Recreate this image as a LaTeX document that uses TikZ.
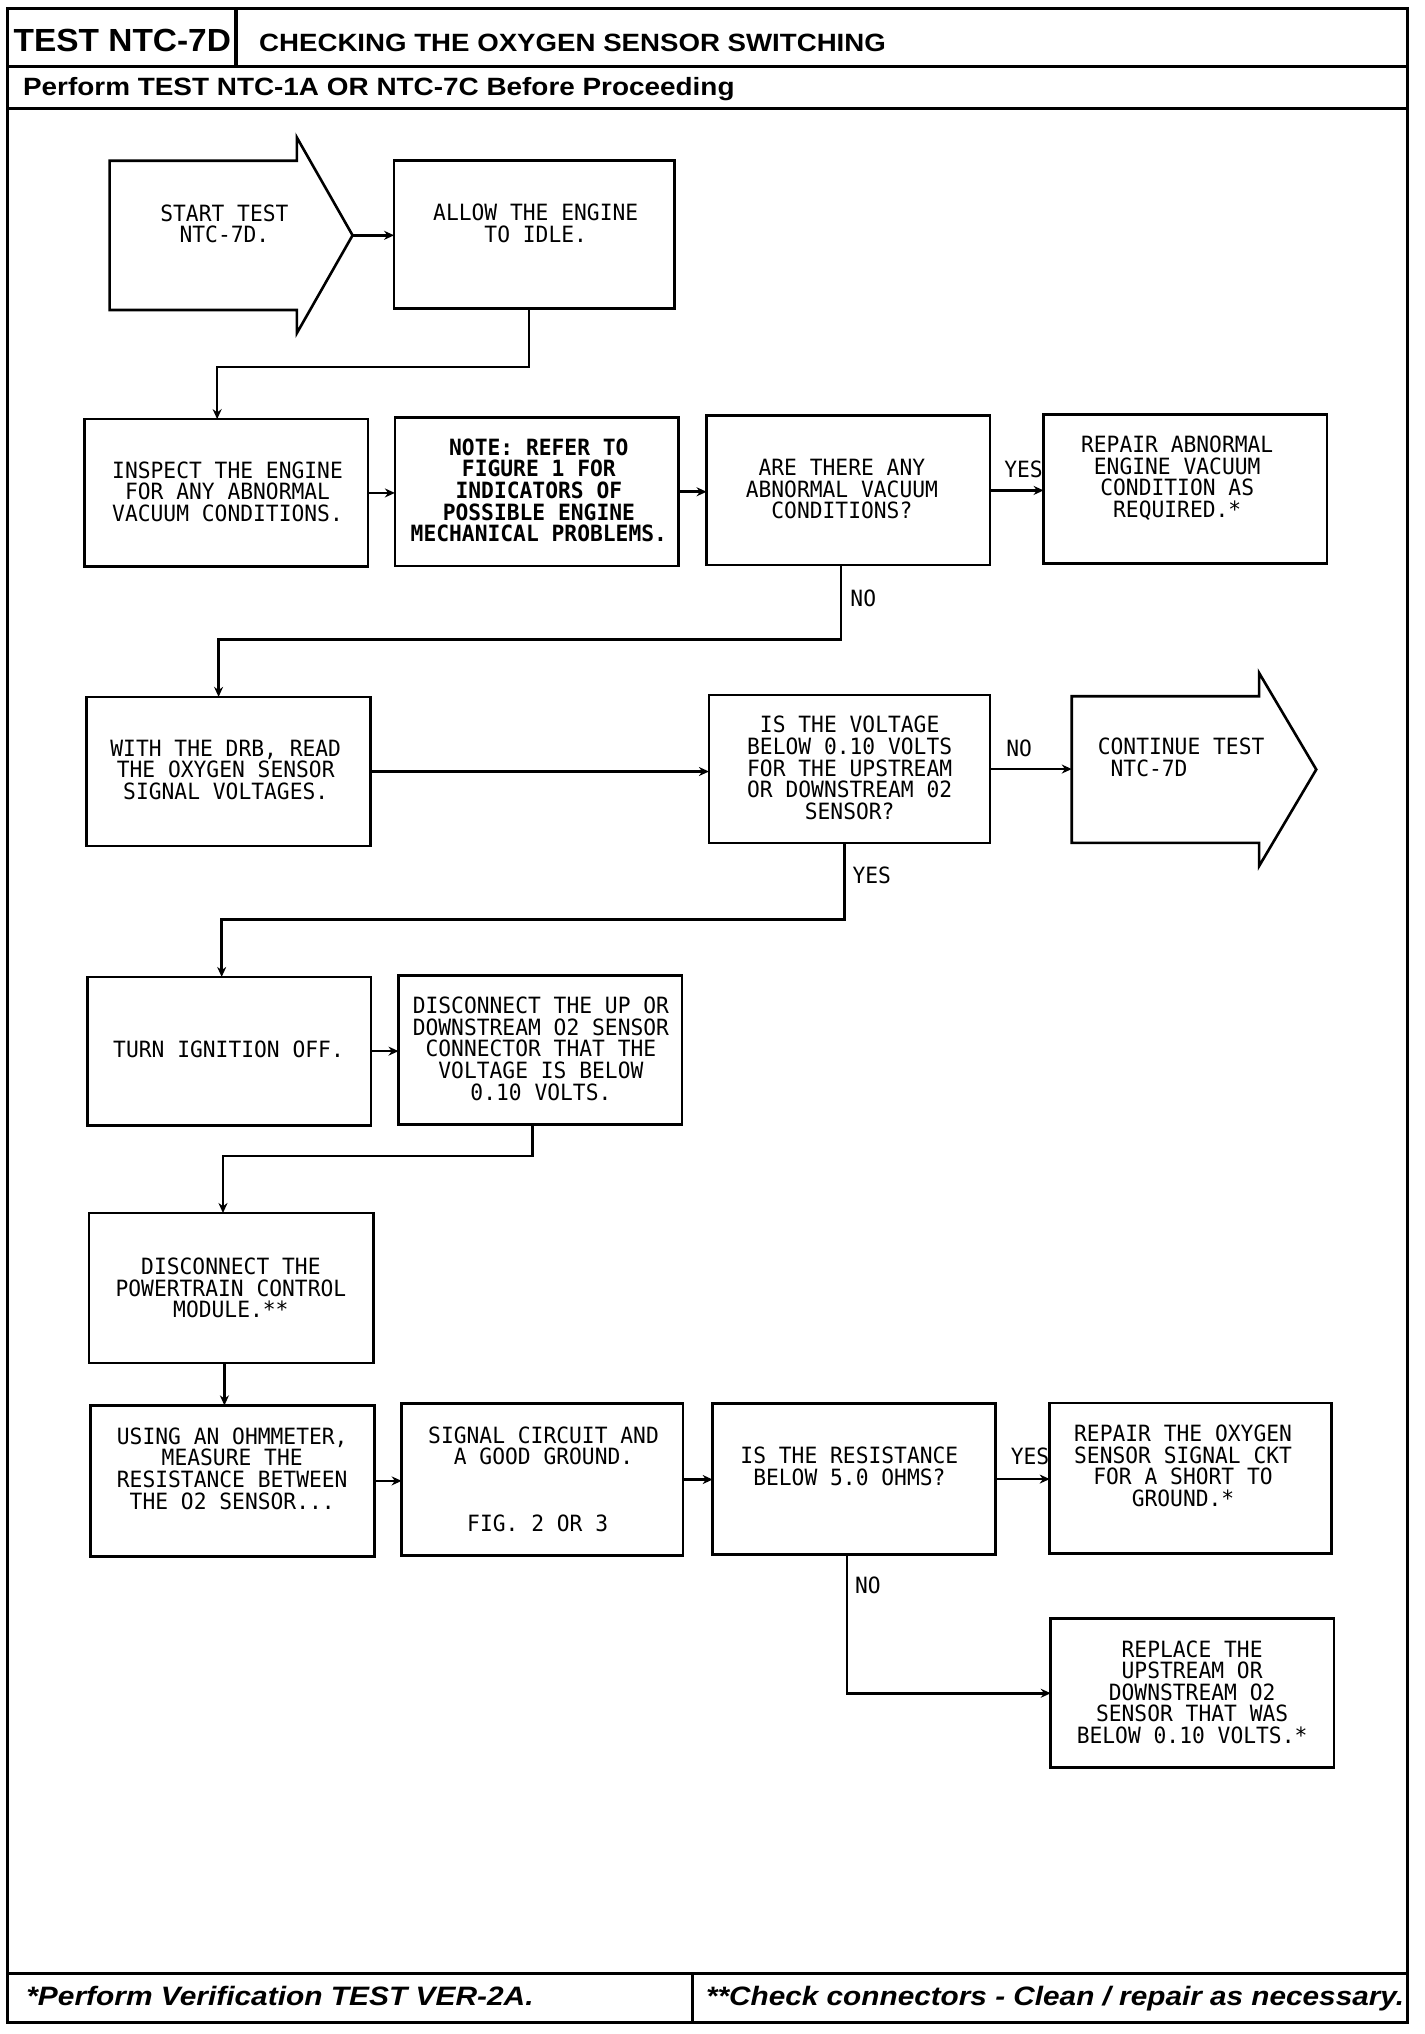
\documentclass[tikz,border=0pt]{standalone}
\usepackage{fontspec}
\usepackage{graphicx}
\setmainfont{Liberation Sans}
\newfontfamily\boxfont[FakeStretch=0.95]{DejaVu Sans Mono}
\usetikzlibrary{arrows.meta,fit,calc}
\begin{document}
\begin{tikzpicture}[x=0.6485pt,y=-0.6485pt,
  frame/.style={line width=1.6pt},
  box/.style={draw,line width=1.3pt,inner sep=0pt,outer sep=0pt},
  shapeline/.style={line width=1.3pt,line join=miter},
  txt/.style={font=\boxfont\fontsize{11.2pt}{10.8pt}\selectfont,align=center,inner sep=0pt},
  lbl/.style={font=\boxfont\fontsize{11.2pt}{10.8pt}\selectfont,inner sep=0pt},
  conn/.style={line width=1.3pt,-{Stealth[length=5pt,width=4.5pt]}},
  hdr/.style={inner sep=0pt}]
\useasboundingbox (0,0) rectangle (1098,1568);
\fill[white] (0,0) rectangle (1098,1568);

% ---- frame ----
\draw[frame] (6,6.4) rectangle (1085,1559);
\draw[frame] (6,51.4) -- (1085,51.4);
\draw[frame] (182,6.4) -- (182,51.4);
\draw[frame] (6,83.5) -- (1085,83.5);
\draw[frame] (6,1521.5) -- (1085,1521.5);
\draw[frame] (534,1521.5) -- (534,1559);

% ---- header / footer texts ----
\node[hdr,anchor=base] (ttl) at (94.3,39.5)
  {\fontsize{16pt}{19pt}\selectfont\bfseries\resizebox{108.6pt}{\height}{TEST NTC-7D}};
\node[hdr,anchor=base west] (chk) at (199.5,39.5)
  {\fontsize{12.5pt}{15pt}\selectfont\bfseries\resizebox{313.3pt}{\height}{CHECKING THE OXYGEN SENSOR SWITCHING}};
\node[hdr,anchor=base west] (pre) at (17.5,74)
  {\fontsize{12.5pt}{15pt}\selectfont\bfseries\resizebox{355.7pt}{\height}{Perform TEST NTC-1A OR NTC-7C Before Proceeding}};
\node[hdr,anchor=base west] (ft1) at (20,1546)
  {\fontsize{13.3pt}{16pt}\selectfont\bfseries\itshape\resizebox{253.6pt}{\height}{*Perform Verification TEST VER-2A.}};
\node[hdr,anchor=base west] (ft2) at (544,1546)
  {\fontsize{13.3pt}{16pt}\selectfont\bfseries\itshape\resizebox{349pt}{\height}{**Check connectors - Clean / repair as necessary.}};

% ---- start arrow ----
\draw[shapeline] (84.5,123.9) -- (228.8,123.9) -- (228.8,105.9) -- (271.8,181.4)
  -- (228.8,256.9) -- (228.8,239) -- (84.5,239) -- cycle;
\coordinate (starttip) at (271.8,181.4);
\node[txt] (startT) at (173,172.5) {START TEST\\NTC-7D.};

% ---- boxes ----
\node[box,fit={(303.8,123.9)(520,237.8)}] (allow) {};
\node[txt] (allowT) at (413,172) {ALLOW THE ENGINE\\TO IDLE.};

\node[box,fit={(65.2,323.1)(283.8,436.9)}] (inspect) {};
\node[txt] (inspectT) at (175.4,379) {INSPECT THE ENGINE\\FOR ANY ABNORMAL\\VACUUM CONDITIONS.};

\node[box,fit={(304.4,321.8)(523,436.4)}] (note) {};
\node[txt,font=\boxfont\bfseries\fontsize{11.2pt}{10.8pt}\selectfont] (noteT) at (415.4,378)
  {NOTE: REFER TO\\FIGURE 1 FOR\\INDICATORS OF\\POSSIBLE ENGINE\\MECHANICAL PROBLEMS.};

\node[box,fit={(544.7,320.5)(763.1,435.6)}] (are) {};
\node[txt] (areT) at (649,377) {ARE THERE ANY\\ABNORMAL VACUUM\\CONDITIONS?};

\node[box,fit={(804.5,319.5)(1022.9,434.4)}] (rep1) {};
\node[txt] (rep1T) at (907.5,368.5) {REPAIR ABNORMAL\\ENGINE VACUUM\\CONDITION AS\\REQUIRED.*};

\node[box,fit={(66.9,537.2)(285.5,652.3)}] (with) {};
\node[txt] (withT) at (174,593.5) {WITH THE DRB, READ\\THE OXYGEN SENSOR\\SIGNAL VOLTAGES.};

\node[box,fit={(546.5,535.9)(763.1,649.8)}] (volt) {};
\node[txt] (voltT) at (655,592) {IS THE VOLTAGE\\BELOW 0.10 VOLTS\\FOR THE UPSTREAM\\OR DOWNSTREAM 02\\SENSOR?};

% continue arrow
\draw[shapeline] (826.2,536.7) -- (970.6,536.7) -- (970.6,518.7) -- (1014.7,593.2)
  -- (970.6,667.7) -- (970.6,649.8) -- (826.2,649.8) -- cycle;
\coordinate (contin) at (826.2,593.2);
\node[txt,align=left,anchor=west] (contT) at (846,584) {CONTINUE TEST\\\hphantom{C}NTC-7D};

\node[box,fit={(67.6,753.1)(286.1,867.5)}] (turn) {};
\node[txt] (turnT) at (176.2,809) {TURN IGNITION OFF.};

\node[box,fit={(307.2,751.8)(525.8,866.7)}] (disc) {};
\node[txt] (discT) at (417,808.5) {DISCONNECT THE UP OR\\DOWNSTREAM O2 SENSOR\\CONNECTOR THAT THE\\VOLTAGE IS BELOW\\0.10 VOLTS.};

\node[box,fit={(68.6,935.1)(287.9,1050.7)}] (pcm) {};
\node[txt] (pcmT) at (178,993) {DISCONNECT THE\\POWERTRAIN CONTROL\\MODULE.**};

\node[box,fit={(69.7,1083.4)(288.9,1199.8)}] (ohm) {};
\node[txt] (ohmT) at (179,1132) {USING AN OHMMETER,\\MEASURE THE\\RESISTANCE BETWEEN\\THE O2 SENSOR...};

\node[box,fit={(309.6,1082.1)(526.4,1199)}] (sig) {};
\node[txt] (sigT) at (419,1114.5) {SIGNAL CIRCUIT AND\\A GOOD GROUND.};
\node[txt] (sigF) at (414.5,1174) {FIG. 2 OR 3};

\node[box,fit={(549.4,1082.1)(767.4,1198.3)}] (res) {};
\node[txt] (resT) at (654.8,1130.5) {IS THE RESISTANCE\\BELOW 5.0 OHMS?};

\node[box,fit={(809.2,1081.6)(1026.5,1197.7)}] (rep2) {};
\node[txt] (rep2T) at (912,1130) {REPAIR THE OXYGEN\\SENSOR SIGNAL CKT\\FOR A SHORT TO\\GROUND.*};

\node[box,fit={(810,1247.9)(1028.3,1362.7)}] (repl) {};
\node[txt] (replT) at (919,1304.5) {REPLACE THE\\UPSTREAM OR\\DOWNSTREAM O2\\SENSOR THAT WAS\\BELOW 0.10 VOLTS.*};

% ---- labels ----
\node[lbl] (yes1) at (789,362) {YES};
\node[lbl] (no1) at (665.5,461) {NO};
\node[lbl] (no2) at (785.6,577) {NO};
\node[lbl] (yes2) at (672,675) {YES};
\node[lbl] (yes3) at (794,1123) {YES};
\node[lbl] (no3) at (669,1222) {NO};

% ---- connectors ----
\draw[conn] (starttip) -- (starttip -| allow.west);
\coordinate (j1) at (407.7,283);
\coordinate (j2) at (167.4,283);
\draw[conn] (allow.south -| j1) -- (j1) -- (j2) -- (j2 |- inspect.north);
\draw[conn] (inspect.east) -- (inspect.east -| note.west);
\draw[conn] (note.east) -- (note.east -| are.west);
\draw[conn] (are.east) -- (are.east -| rep1.west);
\coordinate (j3) at (648.2,493);
\coordinate (j4) at (168.5,493);
\draw[conn] (are.south -| j3) -- (j3) -- (j4) -- (j4 |- with.north);
\draw[conn] (with.east) -- (with.east -| volt.west);
\draw[conn] (volt.east) -- (volt.east -| contin);
\coordinate (j5) at (651.2,709);
\coordinate (j6) at (170.9,709);
\draw[conn] (volt.south -| j5) -- (j5) -- (j6) -- (j6 |- turn.north);
\draw[conn] (turn.east) -- (turn.east -| disc.west);
\coordinate (j7) at (410.4,891);
\coordinate (j8) at (171.9,891);
\draw[conn] (disc.south -| j7) -- (j7) -- (j8) -- (j8 |- pcm.north);
\coordinate (j9) at (173,1067);
\draw[conn] (pcm.south -| j9) -- (j9 |- ohm.north);
\draw[conn] (ohm.east) -- (ohm.east -| sig.west);
\draw[conn] (sig.east) -- (sig.east -| res.west);
\draw[conn] (res.east) -- (res.east -| rep2.west);
\coordinate (j10) at (653,1305.3);
\draw[conn] (res.south -| j10) -- (j10) -- (j10 -| repl.west);
\end{tikzpicture}
\end{document}
